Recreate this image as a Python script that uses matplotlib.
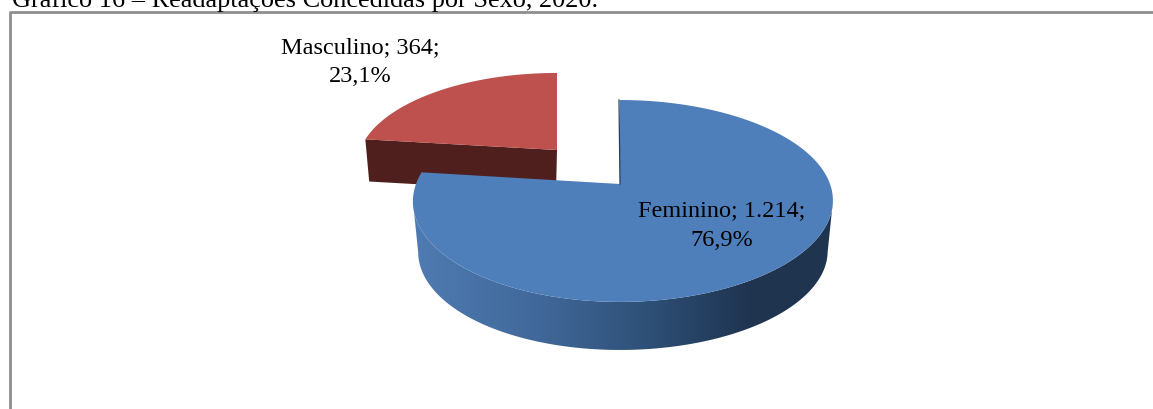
import numpy as np
import matplotlib.pyplot as plt
from matplotlib.patches import Polygon
from matplotlib.colors import LinearSegmentedColormap

title = 'Gráfico 16 – Readaptações Concedidas por Sexo, 2020.'
categories = ['Masculino', 'Feminino']
values = [364, 1214]
value_labels = ['364', '1.214']
percent_labels = ['23,1%', '76,9%']

plt.rcParams['font.family'] = ['Liberation Serif', 'DejaVu Serif']

W, H = 1153, 409
fig = plt.figure(figsize=(W / 100, H / 100), dpi=100)
ax = fig.add_axes([0, 0, 1, 1])
ax.set_xlim(0, W)
ax.set_ylim(H, 0)
ax.axis('off')

# slice angles, clockwise from 12 o'clock, feminino starts at the top
total = sum(values)
fem_end = 360 * values[1] / total
K = 0.168   # perspective of the tilted disc


def project(theta, apex, radius, tall, scale=1.0, drop=0, bulge=0):
    t = np.radians(theta)
    u, v = np.sin(t), np.cos(t)
    p = 1 + K * v
    x = apex[0] + radius * scale * u / p + bulge * u ** 2
    y = apex[1] + drop - tall * scale * v / p
    return np.column_stack([x, y])


# frame around the chart (only top and left are inside the crop)
ax.plot([10, 10, W], [H, 11.5, 11.5], color='#8e8e8e', lw=2, solid_capstyle='butt')
ax.text(12, 6.5, title, fontsize=18.9, color='black', ha='left', va='baseline')

# masculino, pulled out of the pie
red_apex = (557, 150)
red_t = np.linspace(fem_end, 360, 80)
red_top = project(red_t, red_apex, 197, 90)
edge_t = np.array([fem_end])
red_left = project(edge_t, red_apex, 197, 90)[0]
red_left_low = project(edge_t, red_apex, 197, 90, 0.98, 42)[0]
ax.add_patch(Polygon([red_left, red_apex, (red_apex[0] - 1, red_apex[1] + 42), red_left_low],
                     closed=True, fc='#4f1f1d', ec='none'))
ax.add_patch(Polygon(np.vstack([red_top, [red_apex]]), closed=True, fc='#be504d', ec='none'))

# feminino, side wall with a gradient then the top face
fem_apex = (620, 184)
R, A, B = 207, 98.1, 3
# wall only between the left and right extremes of the disc
wall_t = np.linspace(100, 260, 200)
wall = np.vstack([project(wall_t, fem_apex, R, A, bulge=B),
                  project(wall_t[::-1], fem_apex, R, A, 0.975, 51, B)])
grad = LinearSegmentedColormap.from_list('wall', [(0, '#4f7cb3'), (0.3, '#41689a'),
                                                  (0.55, '#2f5178'), (0.8, '#1f3450'),
                                                  (1, '#20364f')])
im = ax.imshow(np.linspace(0, 1, 256).reshape(1, -1), cmap=grad, aspect='auto',
               extent=(410, 835, 360, 150), zorder=2)
clip = Polygon(wall, closed=True, transform=ax.transData, fc='none', ec='none')
ax.add_patch(clip)
im.set_clip_path(clip)
ax.set_xlim(0, W)
ax.set_ylim(H, 0)

fem_t = np.linspace(0, fem_end, 300)
fem_top = project(fem_t, fem_apex, R, A, bulge=B)
ax.add_patch(Polygon(np.vstack([fem_top, [fem_apex]]), closed=True, fc='#4e7fbb', ec='none', zorder=3))
start = project(np.array([0.0]), fem_apex, R, A)[0]
ax.plot([start[0] - 1, fem_apex[0]], [start[1], fem_apex[1]], color='#24405f', lw=0.9, zorder=3)

# data labels
label_pos = [(360, 48, 77), (722, 211, 240)]
for i in range(len(categories)):
    xc, y1, y2 = label_pos[i]
    ax.text(xc, y1, f'{categories[i]}; {value_labels[i]};', fontsize=17.5, ha='center',
            va='center', color='black', zorder=5)
    ax.text(xc, y2, percent_labels[i], fontsize=17.5, ha='center', va='center',
            color='black', zorder=5)

fig.savefig('out.png', dpi=100, facecolor='white')
